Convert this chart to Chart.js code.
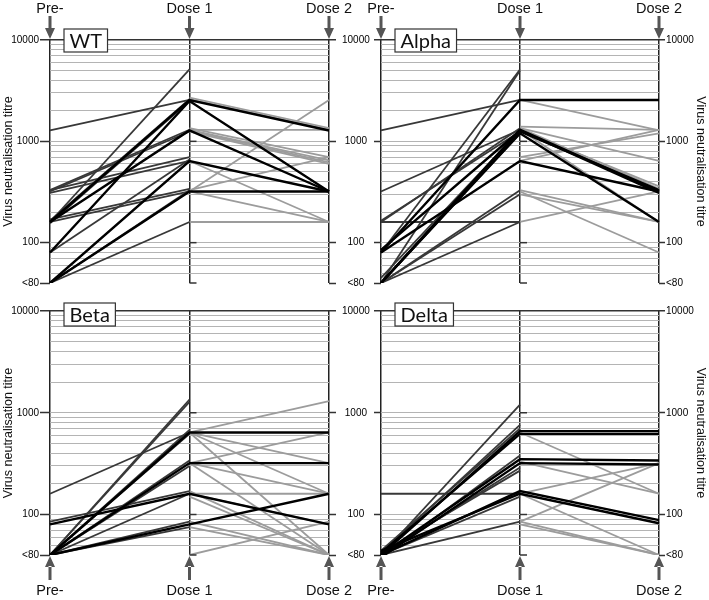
<!DOCTYPE html>
<html>
<head>
<meta charset="utf-8">
<script src="https://cdn.jsdelivr.net/npm/chart.js@4"></script>
<style>
  body { margin: 0; background: #fff; }
  #wrap { position: relative; width: 709px; height: 600px; }
  #wrap canvas { position: absolute; left: 0; top: 0; }
</style>
</head>
<body>
<div id="wrap">
  <canvas id="wt" width="709" height="600"></canvas>
  <canvas id="alpha" width="709" height="600"></canvas>
  <canvas id="beta" width="709" height="600"></canvas>
  <canvas id="delta" width="709" height="600"></canvas>
</div>
<script>
const timepoints = ['Pre-', 'Dose 1', 'Dose 2'];
// "<80" is plotted at 40
const tickValues = [40, 100, 1000, 10000];
const tickText = ['<80', '100', '1000', '10000'];
const gridValues = [40, 50, 60, 70, 80, 90, 100, 200, 300, 400, 500, 600, 700, 800, 900,
  1000, 2000, 3000, 4000, 5000, 6000, 7000, 8000, 9000, 10000];

// [pre, dose1] only
const wtPreDose1 = [[1280, 2560], [160, 5120], [330, 1300], [320, 1250], [330, 700], [310, 640],
  [165, 2600], [155, 2500], [170, 340], [160, 320], [80, 660], [40, 330], [40, 160]];
// [dose1, dose2] only
const wtDose1Dose2 = [[2700, 1350], [2600, 1300], [320, 2560], [1350, 700], [1300, 650], [1280, 620],
  [1250, 600], [330, 700], [640, 160], [320, 160], [160, 160], [1300, 1300]];
// [pre, dose1, dose2]
const wtAll = [[160, 2560, 1280], [80, 2500, 320], [40, 640, 320], [160, 1280, 320], [40, 320, 320]];

const alphaPreDose1 = [[1280, 2560], [80, 5120], [40, 5000], [320, 1300], [160, 1350], [165, 1250],
  [160, 160], [40, 1300], [40, 1200], [45, 1280], [40, 330], [40, 300], [40, 160]];
const alphaDose1Dose2 = [[2560, 1280], [1400, 1300], [1350, 640], [640, 1300], [700, 1200], [1300, 360],
  [1350, 340], [330, 160], [300, 160], [320, 80], [160, 320], [1300, 160]];
const alphaAll = [[80, 2560, 2560], [40, 1300, 320], [40, 1250, 330], [85, 1280, 310], [40, 1200, 160],
  [80, 640, 320]];

const betaPreDose1 = [[160, 640], [85, 170], [40, 1350], [40, 1280], [40, 680], [40, 620], [40, 340],
  [40, 300], [40, 160], [40, 85], [40, 75]];
const betaDose1Dose2 = [[640, 1300], [640, 320], [640, 160], [640, 40], [320, 640], [320, 160], [320, 40],
  [160, 80], [170, 40], [150, 40], [85, 40], [75, 40], [40, 85], [160, 160]];
const betaAll = [[40, 640, 640], [40, 320, 320], [80, 160, 80], [40, 80, 160]];

const deltaPreDose1 = [[160, 160], [40, 1200], [42, 760], [44, 700], [38, 380], [40, 290], [42, 270],
  [40, 150], [40, 85]];
const deltaDose1Dose2 = [[640, 160], [330, 160], [160, 320], [85, 320], [85, 40], [80, 40], [160, 40]];
const deltaAll = [[40, 660, 660], [42, 620, 620], [40, 350, 340], [38, 320, 310], [40, 170, 88],
  [44, 160, 82]];

Chart.defaults.font.family = "'Liberation Sans', Arial, sans-serif";
const AXIS_TITLE = 'Virus neutralisation titre';

const panelDeco = {
  id: 'panelDeco',
  afterDraw(chart, args, opts) {
    const {ctx, chartArea: a} = chart;
    const x = chart.scales.x, y = chart.scales.y;
    ctx.save();
    // arrows above / below each time point
    ctx.fillStyle = '#555';
    timepoints.forEach((t, i) => {
      const px = x.getPixelForValue(i);
      ctx.beginPath();
      if (opts.arrows === 'down') {
        ctx.rect(px - 1.5, a.top - 24, 3, 13);
        ctx.moveTo(px - 5, a.top - 12);
        ctx.lineTo(px + 5, a.top - 12);
        ctx.lineTo(px, a.top - 1);
      } else {
        ctx.rect(px - 1.5, a.bottom + 11, 3, 14);
        ctx.moveTo(px - 5, a.bottom + 12);
        ctx.lineTo(px + 5, a.bottom + 12);
        ctx.lineTo(px, a.bottom + 1);
      }
      ctx.fill();
    });
    // small ticks on the Dose 1 axis
    const dx = x.getPixelForValue(1);
    ctx.strokeStyle = '#333';
    ctx.lineWidth = 1.5;
    [40, 100, 1000].forEach(v => {
      const py = y.getPixelForValue(v);
      ctx.beginPath();
      ctx.moveTo(dx, py);
      ctx.lineTo(dx + 7, py);
      ctx.stroke();
    });
    // boxed panel name
    ctx.font = "20px Lato, 'Open Sans', sans-serif";
    const w = ctx.measureText(opts.name).width + 11;
    const bx = a.left + 14, by = a.top + opts.boxOffset;
    ctx.fillStyle = '#fff';
    ctx.fillRect(bx, by, w, 23);
    ctx.lineWidth = 1.2;
    ctx.strokeRect(bx, by, w, 23);
    ctx.fillStyle = '#111';
    ctx.textBaseline = 'middle';
    ctx.fillText(opts.name, bx + 5.5, by + 12.5);
    ctx.restore();
  }
};

function segments(first, second, all) {
  const sets = [];
  all.forEach(p => sets.push({data: p, borderColor: '#000', borderWidth: 2.4}));
  first.forEach(p => sets.push({data: [p[0], p[1], null], borderColor: '#383838', borderWidth: 1.8}));
  second.forEach(p => sets.push({data: [null, p[0], p[1]], borderColor: '#9c9c9c', borderWidth: 1.8}));
  return sets;
}

// ax: {pos, title, labels, tickLen, width, pad, align}
function yAxis(ax) {
  return {
    type: 'logarithmic',
    position: ax.pos,
    min: 40,
    max: 10000,
    afterBuildTicks: s => { s.ticks = gridValues.map(v => ({value: v, major: tickValues.includes(v)})); },
    afterFit: s => { s.width = ax.width; },
    border: {display: false},
    grid: {
      drawOnChartArea: ax.pos === 'left',
      color: c => c.tick.value === 10000 ? '#333' : (c.tick.value === 40 ? 'rgba(0,0,0,0)' : '#b4b4b4'),
      tickColor: c => tickValues.includes(c.tick.value) ? '#333' : 'rgba(0,0,0,0)',
      tickLength: ax.tickLen,
      tickWidth: 1.5,
      lineWidth: c => c.tick.value === 10000 ? 1.5 : 1
    },
    ticks: {
      autoSkip: false,
      padding: ax.pad,
      crossAlign: ax.align,
      color: '#000',
      font: {size: 10},
      callback: v => {
        const k = tickValues.indexOf(v);
        return (k < 0 || !ax.labels) ? '' : tickText[k];
      }
    },
    title: {display: ax.title, text: AXIS_TITLE, color: '#111', font: {size: 12.5}, padding: {top: 1, bottom: 0}}
  };
}

function makePanel(id, name, first, second, all, cfg) {
  const leftPanel = cfg.leftTitle;
  new Chart(document.getElementById(id), {
    type: 'line',
    data: {labels: timepoints, datasets: segments(first, second, all)},
    options: {
      responsive: false,
      animation: false,
      layout: {padding: cfg.padding},
      elements: {point: {radius: 0}, line: {tension: 0}},
      plugins: {legend: {display: false}, tooltip: {enabled: false},
        panelDeco: {name: name, arrows: cfg.top ? 'down' : 'up', boxOffset: cfg.top ? -11 : -8}},
      scales: {
        x: {
          position: cfg.top ? 'top' : 'bottom',
          offset: false,
          afterFit: s => { s.height = cfg.top ? 40 : 45; },
          border: {display: false},
          grid: {color: '#222', lineWidth: 1.5, drawTicks: false},
          ticks: {color: '#111', font: {size: 14.5}, padding: cfg.top ? 22 : 27, maxRotation: 0, autoSkip: false}
        },
        y: leftPanel
          ? yAxis({pos: 'left', title: true, labels: true, tickLen: 10, width: 50, pad: 1, align: 'near'})
          : yAxis({pos: 'left', title: false, labels: false, tickLen: 7, width: 50, pad: 0, align: 'near'}),
        y2: leftPanel
          ? yAxis({pos: 'right', title: false, labels: true, tickLen: 7, width: 45, pad: 6, align: 'center'})
          : yAxis({pos: 'right', title: true, labels: true, tickLen: 6, width: 50, pad: 1, align: 'near'})
      }
    },
    plugins: [panelDeco]
  });
}

// chart areas: left panels x 50..329, right panels x 381..659; top y 40..283, bottom y 311..555
makePanel('wt', 'WT', wtPreDose1, wtDose1Dose2, wtAll,
  {top: true, leftTitle: true, padding: {left: 0, right: 335, top: 0, bottom: 317}});
makePanel('alpha', 'Alpha', alphaPreDose1, alphaDose1Dose2, alphaAll,
  {top: true, leftTitle: false, padding: {left: 331, right: 0, top: 0, bottom: 317}});
makePanel('beta', 'Beta', betaPreDose1, betaDose1Dose2, betaAll,
  {top: false, leftTitle: true, padding: {left: 0, right: 335, top: 311, bottom: 0}});
makePanel('delta', 'Delta', deltaPreDose1, deltaDose1Dose2, deltaAll,
  {top: false, leftTitle: false, padding: {left: 331, right: 0, top: 311, bottom: 0}});
</script>
</body>
</html>
